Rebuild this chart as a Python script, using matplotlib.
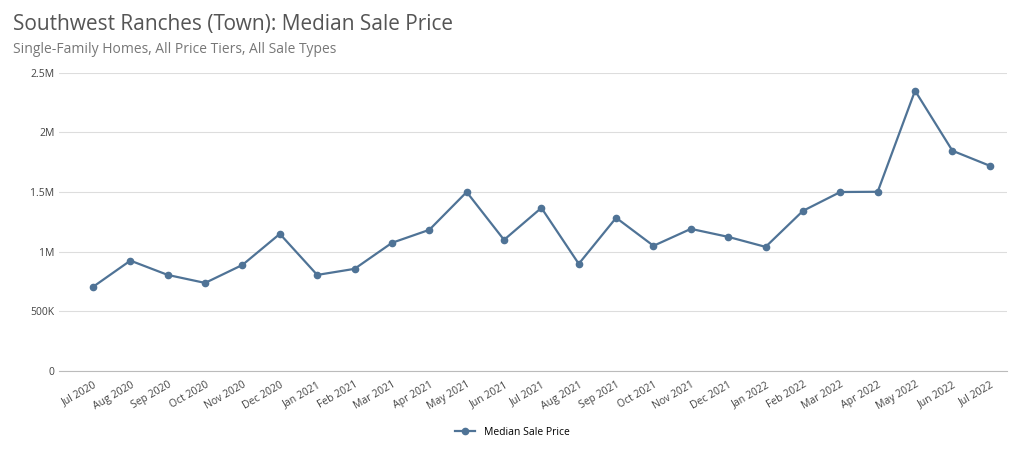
import matplotlib
matplotlib.use("Agg")
import matplotlib.pyplot as plt
from matplotlib.ticker import FuncFormatter

months = ["Jul 2020","Aug 2020","Sep 2020","Oct 2020","Nov 2020","Dec 2020","Jan 2021","Feb 2021",
          "Mar 2021","Apr 2021","May 2021","Jun 2021","Jul 2021","Aug 2021","Sep 2021","Oct 2021",
          "Nov 2021","Dec 2021","Jan 2022","Feb 2022","Mar 2022","Apr 2022","May 2022","Jun 2022","Jul 2022"]
prices = [705000,925000,805000,738000,889000,1149000,805000,856000,1074000,1183000,1500000,1099000,
          1367000,898000,1284000,1049000,1191000,1124000,1040000,1342000,1500000,1502000,2349000,1846000,1720000]
yticks = [0,500000,1000000,1500000,2000000,2500000]
ylabels = ["0","500K","1M","1.5M","2M","2.5M"]

plt.rcParams["font.family"] = "Open Sans"
fig = plt.figure(figsize=(10.24,4.69), dpi=100)
ax = fig.add_axes([0.058, 0.209, 0.925, 0.636])
x = list(range(len(months)))
color = "#4f7396"
ax.plot(x, prices, color=color, lw=1.6, marker="o", ms=4.5, label="Median Sale Price")
ax.set_ylim(0, 2500000)
ax.set_xlim(-0.9, len(months)-0.55)
ax.set_yticks(yticks)
ax.set_yticklabels(ylabels)
ax.set_xticks(x)
ax.set_xticklabels(months, rotation=30, ha="right", rotation_mode="anchor")
ax.tick_params(axis="both", length=0, labelsize=7.5, colors="#444444")
ax.tick_params(axis="x", pad=6)
ax.grid(axis="y", color="#dddddd", lw=0.8)
ax.set_axisbelow(True)
for s in ["top","right","left"]:
    ax.spines[s].set_visible(False)
ax.spines["bottom"].set_color("#bbbbbb")
fig.text(0.013, 0.935, "Southwest Ranches (Town): Median Sale Price", fontsize=15, color="#555555")
fig.text(0.013, 0.888, "Single-Family Homes, All Price Tiers, All Sale Types", fontsize=10, color="#777777")
fig.legend(loc="center", bbox_to_anchor=(0.5, 0.078), frameon=False, fontsize=7.5)
fig.savefig("out.png", dpi=100)
